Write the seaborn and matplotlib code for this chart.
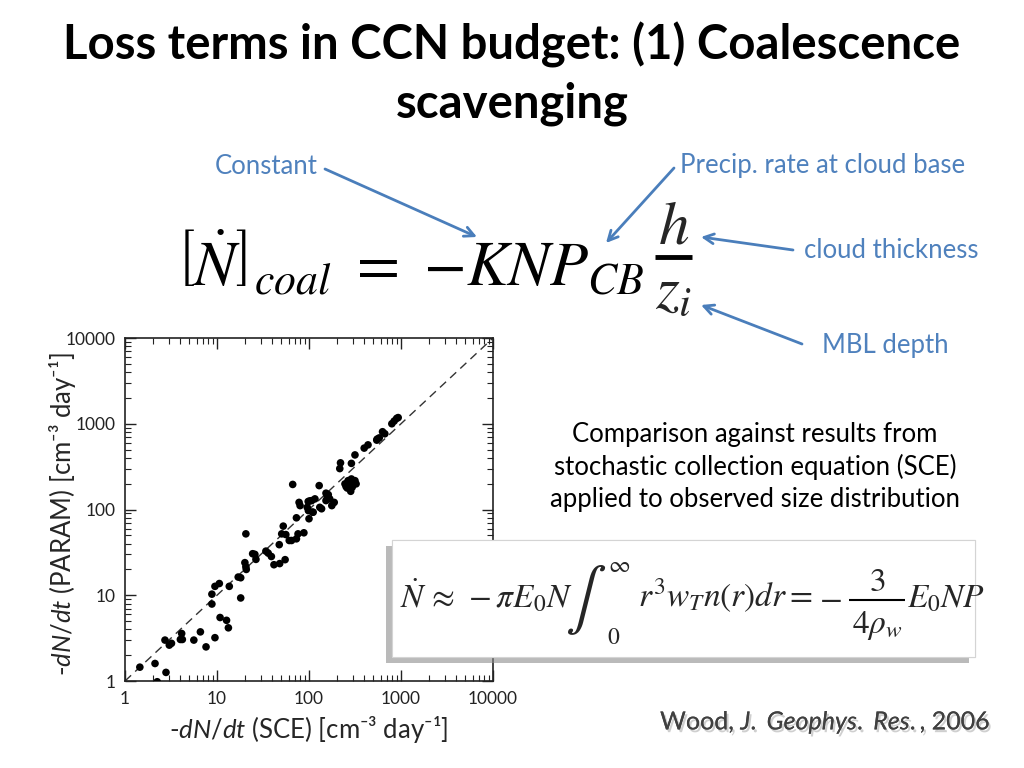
"""
Slide: loss terms in CCN budget - coalescence scavenging (PARAM vs SCE scatter)
"""

# %% Imports
import matplotlib
matplotlib.use('Agg')
import seaborn as sns
import matplotlib.pyplot as plt
import matplotlib.patheffects as pe
from matplotlib.patches import Rectangle
import pandas as pd

# %% Data (cm-3 day-1)
sce_rate = [1.45, 2.12, 2.24, 2.79, 2.72, 3.03, 3.2, 4.13, 4.0, 4.2,
            5.6, 6.6, 7.6, 9.5, 8.8, 8.8, 9.5, 10.6, 10.8, 12.7,
            13.3, 13.6, 18.1, 17.0, 18.1, 20.6, 20.1, 20.6, 20.8, 24.4,
            25.8, 26.5, 34, 36, 39, 41.6, 48, 55, 47.5, 52.5,
            56, 50.5, 61, 64.6, 73, 76, 88, 73, 80, 78,
            66.5, 100, 98.5, 109, 95.7, 98, 107, 116, 111, 131,
            137, 129, 153, 158, 162, 153, 168, 177, 188, 216,
            220, 289, 316, 246, 260, 284, 303, 316, 325, 266,
            289, 253, 295, 274, 398, 438, 551, 580, 630, 667,
            545, 795, 843, 897, 932, 102]
param_rate = [1.45, 1.6, 0.98, 1.26, 3.0, 2.62, 2.75, 3.58, 3.05, 3.05,
              3.0, 3.74, 2.5, 3.2, 7.9, 10.3, 12.7, 13.7, 5.5, 5.1,
              4.17, 12.7, 9.3, 16.3, 16.0, 52, 24, 21.5, 20, 30.5,
              30, 26.2, 32.7, 31, 28.3, 22.7, 23.4, 26, 38.9, 64,
              51, 52, 43.5, 43.5, 45.5, 52, 53.5, 80, 111, 121,
              196, 78, 97, 93, 106, 124, 127, 133, 93, 106,
              102, 190, 155, 141, 149, 127, 133, 111, 121, 300,
              350, 345, 433, 199, 178, 163, 196, 217, 199, 217,
              227, 185, 182, 196, 520, 567, 663, 684, 807, 764,
              644, 1000, 1075, 1155, 1180, 126]
one_to_one = [1, 10000]
tick_values = [1, 10, 100, 1000, 10000]
tick_labels = ['1', '10', '100', '1000', '10000']

df = pd.DataFrame({'sce': sce_rate, 'param': param_rate})
ref = pd.DataFrame({'x': one_to_one, 'y': one_to_one})

# %% Style
sns.set_style('ticks')
plt.rcParams['font.family'] = ['Lato', 'DejaVu Sans']
plt.rcParams['mathtext.fontset'] = 'custom'
plt.rcParams['mathtext.rm'] = 'Lato'
plt.rcParams['mathtext.it'] = 'Lato:italic'
plt.rcParams['mathtext.bf'] = 'Lato:bold'

blue = '#4F81BD'
arrow_blue = '#4A7EBB'
W, H = 1024, 768
fig = plt.figure(figsize=(10.24, 7.68), dpi=100)

# %% Scatter plot
ax = fig.add_axes([125 / W, 1 - 681 / H, (493 - 125) / W, (681 - 338) / H])
sns.lineplot(data=ref, x='x', y='y', ax=ax, color='#333333', lw=1, dashes=(6, 4))
sns.scatterplot(data=df, x='sce', y='param', ax=ax, color='black', s=30, edgecolor='none', zorder=3)
ax.set_xscale('log')
ax.set_yscale('log')
ax.set_xlim(1, 10000)
ax.set_ylim(1, 10000)
ax.set_xticks(tick_values)
ax.set_xticklabels(tick_labels)
ax.set_yticks(tick_values)
ax.set_yticklabels(tick_labels)
ax.tick_params(which='both', direction='in', top=True, right=True, labelsize=12.5, colors='#222222')
ax.tick_params(which='major', length=8, width=1, pad=7)
ax.tick_params(which='minor', length=4, width=0.8)
for s in ax.spines.values():
    s.set_linewidth(1.2)
    s.set_color('#222222')
ax.set_xlabel(r'-$\mathit{dN/dt}$ (SCE) [cm⁻³ day⁻¹]', fontsize=18.5, labelpad=5)
ax.set_ylabel(r'-$\mathit{dN/dt}$ (PARAM) [cm⁻³ day⁻¹]', fontsize=18.5)
ax.yaxis.set_label_coords(-0.128, 0.485)

# %% Slide overlay (pixel coordinates, drawn above the scatter)
ov = fig.add_axes([0, 0, 1, 1], zorder=10)
ov.set_xlim(0, W)
ov.set_ylim(H, 0)
ov.axis('off')
ov.patch.set_alpha(0)

# Title
ov.text(512, 45, 'Loss terms in CCN budget: (1) Coalescence', ha='center', va='center',
        fontsize=34, fontweight='bold', color='black')
ov.text(512, 104, 'scavenging', ha='center', va='center',
        fontsize=34, fontweight='bold', color='black')

# Main formula
ov.text(176, 262, r'$\left[\dot{N}\right]_{coal}\ =\ {-}KNP_{CB}$', ha='left', va='center',
        fontsize=45, math_fontfamily='stix', color='black')
ov.text(674, 226, r'$h$', ha='center', va='center', fontsize=44, math_fontfamily='stix')
ov.plot([655, 692], [257, 257], color='black', lw=3.5, solid_capstyle='butt')
ov.text(674, 290, r'$z_i$', ha='center', va='center', fontsize=44, math_fontfamily='stix')

# Annotations with arrows
ov.text(215, 166, 'Constant', ha='left', va='center', fontsize=18.5, color=blue)
ov.text(680, 166, 'Precip. rate at cloud base', ha='left', va='center', fontsize=18.5, color=blue)
ov.text(804, 251, 'cloud thickness', ha='left', va='center', fontsize=18.5, color=blue)
ov.text(822, 345, 'MBL depth', ha='left', va='center', fontsize=18.5, color=blue)

arrows = [((325, 169), (477, 237)),
          ((674, 168), (606, 243)),
          ((793, 250), (701, 237)),
          ((802, 344), (701, 305))]
for start, end in arrows:
    ov.annotate('', xy=end, xytext=start,
                arrowprops=dict(arrowstyle='->,head_length=0.7,head_width=0.35', color=arrow_blue, lw=2,
                                shrinkA=0, shrinkB=0))

# Description text
ov.text(755, 467,
        'Comparison against results from\nstochastic collection equation (SCE)\napplied to observed size distribution',
        ha='center', va='center', fontsize=18.5, linespacing=1.33, color='black')

# Equation box with shadow
box = Rectangle((392, 540), 583, 117, facecolor='white', edgecolor='#d4d4d4', lw=0.8)
box.set_path_effects([pe.withSimplePatchShadow(offset=(-4, -4), shadow_rgbFace='#8c8c8c', alpha=0.6),
                      pe.Normal()])
ov.add_patch(box)
eq_size = 24
ov.text(400, 607, r'$\dot{N}\,\approx\,-\pi E_0 N$', ha='left', va='baseline', fontsize=eq_size,
        math_fontfamily='stix')
ov.text(586, 600, r'$\int$', ha='center', va='center', fontsize=44, math_fontfamily='stix')
ov.text(608, 566, r'$\infty$', ha='left', va='center', fontsize=17, math_fontfamily='stix')
ov.text(607, 637, r'$0$', ha='left', va='center', fontsize=17, math_fontfamily='stix')
ov.text(638, 607, r'$r^3 w_T n(r) dr =$', ha='left', va='baseline', fontsize=eq_size,
        math_fontfamily='stix')
ov.text(819, 607, r'$-$', ha='left', va='baseline', fontsize=eq_size, math_fontfamily='stix')
ov.text(877, 582, r'$3$', ha='center', va='center', fontsize=eq_size, math_fontfamily='stix')
ov.plot([849, 905], [600, 600], color='black', lw=1.5, solid_capstyle='butt')
ov.text(877, 626, r'$4\rho_w$', ha='center', va='center', fontsize=eq_size, math_fontfamily='stix')
ov.text(907, 607, r'$E_0 NP$', ha='left', va='baseline', fontsize=eq_size, math_fontfamily='stix')

# Citation with shadow
cite = ov.text(660, 722, r'Wood, $\mathit{J.}$ $\mathit{Geophys.}$ $\mathit{Res.}$, 2006', ha='left',
               va='center', fontsize=18, color='#404040')
cite.set_path_effects([pe.withSimplePatchShadow(offset=(1.5, -2), shadow_rgbFace='#b0b0b0', alpha=0.6),
                       pe.Normal()])

plt.savefig('out.png', dpi=100)
